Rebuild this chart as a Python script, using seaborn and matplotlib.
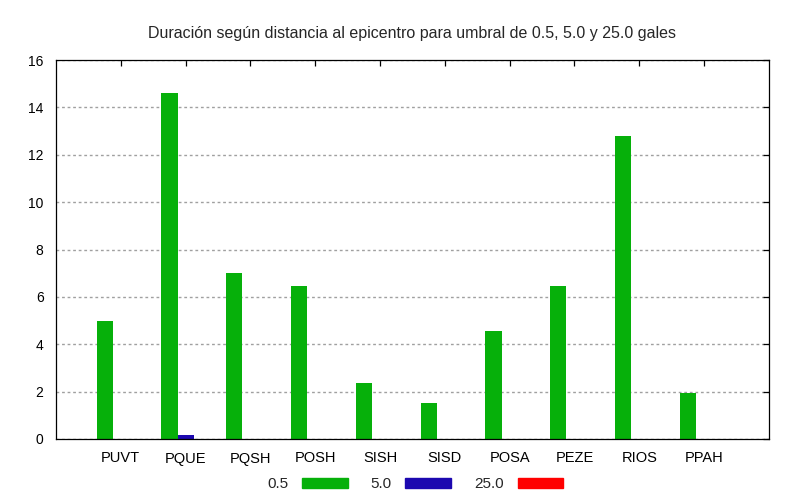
import matplotlib
matplotlib.use("Agg")
import matplotlib.pyplot as plt
import matplotlib.patches as mpatches
import pandas as pd
import seaborn as sns

# datos
estaciones = ["PUVT", "PQUE", "PQSH", "POSH", "SISH", "SISD", "POSA", "PEZE", "RIOS", "PPAH"]
umbrales = ["0.5", "5.0", "25.0"]
dur_05 = [5.0, 14.6, 7.0, 6.45, 2.35, 1.5, 4.55, 6.45, 12.8, 1.95]
dur_50 = [0, 0.15, 0, 0, 0, 0, 0, 0, 0, 0]
dur_250 = [0, 0, 0, 0, 0, 0, 0, 0, 0, 0]
colores = ["#06b00a", "#1c08b0", "#ff0000"]

# tabla larga para seaborn
df = pd.DataFrame({
    "estacion": estaciones * 3,
    "umbral": [umbrales[0]] * 10 + [umbrales[1]] * 10 + [umbrales[2]] * 10,
    "duracion": dur_05 + dur_50 + dur_250,
})

sns.set_style("white")
plt.rcParams["font.family"] = ["Liberation Sans", "DejaVu Sans"]
plt.rcParams["font.size"] = 10

fig, ax = plt.subplots(figsize=(8, 5), dpi=100)
fig.subplots_adjust(left=0.07, right=0.961, top=0.88, bottom=0.122)

sns.barplot(data=df, x="estacion", y="duracion", hue="umbral", order=estaciones,
            hue_order=umbrales, palette=colores, width=0.75, saturation=1,
            linewidth=0, legend=False, ax=ax)

ax.set_xlim(-1, 10)
ax.set_ylim(0, 16)
ax.set_yticks(range(0, 17, 2))
ax.set_xlabel("")
ax.set_ylabel("")
ax.set_title("Duración según distancia al epicentro para umbral de 0.5, 5.0 y 25.0 gales",
             fontsize=11.5, pad=16)

ax.set_axisbelow(True)
ax.yaxis.grid(True, linestyle=(0, (2, 2)), color="#a0a0a0", linewidth=1)
for s in ax.spines.values():
    s.set_color("black")
    s.set_linewidth(0.9)
ax.tick_params(direction="in", top=True, right=True, length=4, width=0.9,
               colors="black", labelsize=10, pad=9)
ax.tick_params(axis="x", labelsize=10.5)

# leyenda abajo con el texto antes del color
handles = [mpatches.Patch(color=c, label=u) for c, u in zip(colores, umbrales)]
fig.legend(handles=handles, loc="lower center", bbox_to_anchor=(0.519, -0.01), ncol=3,
           frameon=False, markerfirst=False, handlelength=3.0, handleheight=0.66,
           handletextpad=0.9, columnspacing=1.5, fontsize=11)

fig.savefig("out.png", dpi=100)
